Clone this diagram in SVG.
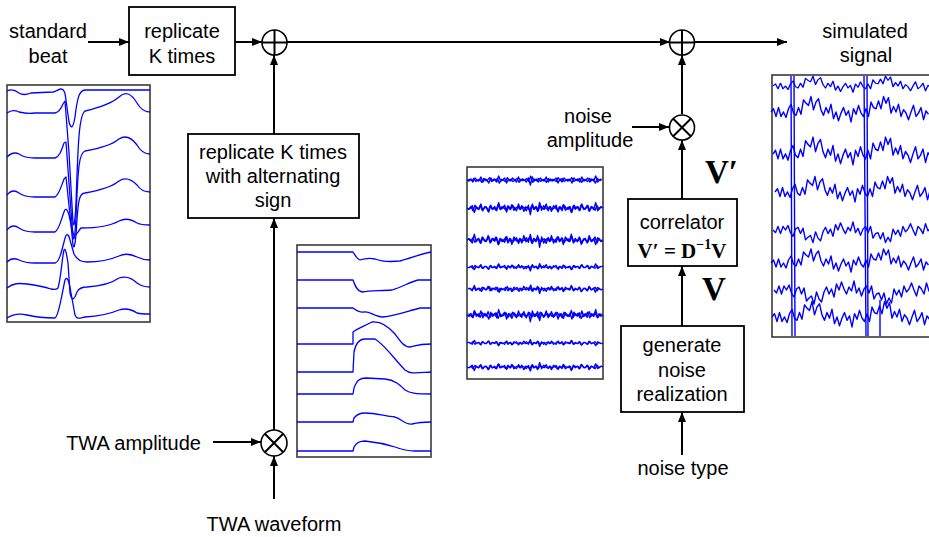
<svg xmlns="http://www.w3.org/2000/svg" xmlns:xlink="http://www.w3.org/1999/xlink" width="929" height="537" viewBox="0 0 929 537">
<style>
.t{font-family:"Liberation Sans",Arial,sans-serif;font-size:20px;fill:#000;text-anchor:middle}
.m{font-family:"Liberation Serif","Times New Roman",serif;font-weight:bold;fill:#000}
.box{fill:#fff;stroke:#000;stroke-width:1.8}
.ln{fill:none;stroke:#000;stroke-width:2}
.op{fill:#fff;stroke:#000;stroke-width:1.6}
.fr{fill:#fff;stroke:#3a3a3a;stroke-width:1.6}
.w{fill:none;stroke:#0000ff;stroke-width:1.3;stroke-linejoin:round}
.nz{fill:none;stroke:#0000ff;stroke-width:1.4;stroke-linejoin:round}
</style>
<defs>
<marker id="ah" viewBox="0 0 10 8" refX="10" refY="4" markerWidth="10" markerHeight="8" orient="auto" markerUnits="userSpaceOnUse"><path d="M0,0 L10,4 L0,8 z" fill="#000"/></marker>
<path id="n1" d="M0,0 L2,1 4,-1 6,2 8,-2 10,0 12,1 14,-3 16,2 18,-1 20,0 22,3 24,-2 26,1 28,-1 30,2 32,-4 34,1 36,0 38,-2 40,3 42,-1 44,1 46,-2 48,0 50,2 52,-3 54,1 56,-1 58,0 60,2 62,-2 64,5 66,-3 68,1 70,-1 72,2 74,-2 76,0 78,1 80,-3 82,2 84,-1 86,1 88,0 90,-2 92,3 94,-1 96,2 98,-2 100,0 102,1 104,-1 106,3 108,-2 110,0 112,-1 114,2 116,-3 118,1 120,0 122,-2 124,2 126,-1 128,1 130,-4 132,2 134,0 136,-1"/>
<path id="n2" d="M0,0 L2.5,-3 5,4 7.5,-4 10,4 12.5,0 15,5 17.5,-3 20,-7 22.5,1 25,3 27.5,-4 30,2 32.5,-11 35,-8 37.5,-6 40,-14 42.5,-2 45,-9 47.5,-12 50,-2 52.5,3 55,-4 57.5,1 60,-7 62.5,6 65,0 67.5,8 70,1 72.5,-4 75,3 77.5,-1 80,9 82.5,-3 85,2 87.5,-6 90,1 92.5,4 95,-3 97.5,4 100,-9 102.5,-4 105,-3 107.5,-10 110,-3 112.5,-14 115,-8 117.5,-13 120,1 122.5,-5 125,0 127.5,-7 130,4 132.5,-2 135,1 137.5,7 140,0 142.5,-6 145,4 147.5,1 150,-4 152.5,7 155,-1 157.5,2"/>
</defs>

<g id="connectors">
<path class="ln" d="M88,42 L129,42" marker-end="url(#ah)"/>
<path class="ln" d="M235,42 L262,42" marker-end="url(#ah)"/>
<path class="ln" d="M287,42 L670,42" marker-end="url(#ah)"/>
<path class="ln" d="M694,42 L787,42" marker-end="url(#ah)"/>
<path class="ln" d="M274,134 L274,55" marker-end="url(#ah)"/>
<path class="ln" d="M274,430 L274,218" marker-end="url(#ah)"/>
<path class="ln" d="M213,442 L261,442" marker-end="url(#ah)"/>
<path class="ln" d="M274,499 L274,456" marker-end="url(#ah)"/>
<path class="ln" d="M682,114 L682,55" marker-end="url(#ah)"/>
<path class="ln" d="M632,127 L669,127" marker-end="url(#ah)"/>
<path class="ln" d="M682,199 L682,140" marker-end="url(#ah)"/>
<path class="ln" d="M682,326 L682,266" marker-end="url(#ah)"/>
<path class="ln" d="M682,455 L682,412" marker-end="url(#ah)"/>
</g>

<g id="label-standard-beat">
<text class="t" x="48" y="38">standard</text>
<text class="t" x="48" y="63">beat</text>
</g>
<g id="box-replicate">
<rect class="box" x="129" y="7" width="106" height="68"/>
<text class="t" x="182" y="38">replicate</text>
<text class="t" x="182" y="63">K times</text>
</g>
<g id="sum1">
<circle class="op" cx="274.5" cy="42.5" r="12.5"/>
<path class="ln" stroke-width="1.5" d="M262,42.5 H287 M274.5,30 V55"/>
</g>
<g id="sum2">
<circle class="op" cx="682" cy="42.5" r="12.5"/>
<path class="ln" stroke-width="1.5" d="M669.5,42.5 H694.5 M682,30 V55"/>
</g>
<g id="label-simulated">
<text class="t" x="865" y="38">simulated</text>
<text class="t" x="866" y="62">signal</text>
</g>
<g id="box-alternating">
<rect class="box" x="188" y="134" width="171" height="84"/>
<text class="t" x="273" y="159">replicate K times</text>
<text class="t" x="273" y="183">with alternating</text>
<text class="t" x="273" y="207">sign</text>
</g>
<g id="mul-twa">
<circle class="op" cx="274" cy="443" r="13"/>
<path class="ln" stroke-width="1.5" d="M264.8,433.8 L283.2,452.2 M283.2,433.8 L264.8,452.2"/>
</g>
<g id="label-twa-amp"><text class="t" x="201" y="450" style="text-anchor:end">TWA amplitude</text></g>
<g id="label-twa-wave"><text class="t" x="274" y="531">TWA waveform</text></g>

<g id="mul-noise">
<circle class="op" cx="682" cy="127.5" r="12.5"/>
<path class="ln" stroke-width="1.5" d="M673.2,118.7 L690.8,136.3 M690.8,118.7 L673.2,136.3"/>
</g>
<g id="label-noise-amp">
<text class="t" x="588" y="123">noise</text>
<text class="t" x="590" y="147">amplitude</text>
</g>
<g id="label-vprime"><text class="m" x="705" y="183" font-size="33">V′</text></g>
<g id="box-correlator">
<rect class="box" x="628" y="199" width="109" height="67"/>
<text class="t" x="682" y="229">correlator</text>
<text class="m" x="682" y="258" font-size="21" text-anchor="middle">V′ = D<tspan font-size="14" dy="-9">−1</tspan><tspan dy="9">V</tspan></text>
</g>
<g id="label-v"><text class="m" x="702" y="300" font-size="33">V</text></g>
<g id="box-generate">
<rect class="box" x="621" y="326" width="123" height="86"/>
<text class="t" x="682" y="352">generate</text>
<text class="t" x="682" y="377">noise</text>
<text class="t" x="682" y="401">realization</text>
</g>
<g id="label-noise-type"><text class="t" x="683" y="475">noise type</text></g>

<g id="plot-standard-beat">
<rect class="fr" x="7" y="85" width="143" height="237"/>
<path class="w" transform="translate(7,92)" d="M0,-1 C4,-3 8,-2 12,1 C15,3 19,3 24,1 L46,0 C50,-1 52,-3 54,-3 C57,-3 58,0 59,8 L62,30 C64,37 66,37 68,25 C70,8 72,-2 78,-2 L143,-2"/>
<path class="w" transform="translate(7,113)" d="M0,0 C4,-3 8,-3 12,-1 C16,0 22,1 28,0 L48,0 C52,-1 54,-4 56,-9 L58,-12 L62,40 L66,110 C67,115 68,110 69,90 C71,30 72,2 78,-2 C95,-6 105,-10 112,-16 C118,-22 124,-20 130,-10 C134,-3 138,-1 143,-1"/>
<path class="w" transform="translate(7,157)" d="M0,0 C4,-4 8,-5 12,-3 C16,0 22,1 28,1 L48,1 C52,0 54,-5 57,-14 L59,-15 L63,40 L66,80 C67,85 68,80 69,60 C71,10 72,-4 78,-6 C95,-9 105,-12 112,-18 C118,-22 124,-20 130,-12 C134,-5 138,-3 143,-3"/>
<path class="w" transform="translate(7,195)" d="M0,0 C4,-5 8,-5 12,-2 C16,1 22,2 28,2 L48,2 C52,0 54,-8 57,-16 L59,-18 L63,20 L66,50 C67,55 68,50 69,40 C71,5 72,-2 78,-2 C95,-5 105,-8 112,-14 C118,-18 124,-16 130,-10 C134,-4 138,-3 143,-3"/>
<path class="w" transform="translate(7,230)" d="M0,0 C4,-5 8,-5 12,-2 C16,1 22,2 28,2 L48,2 C52,0 54,-10 57,-18 C58,-22 60,-22 62,-15 L66,3 C68,8 70,3 74,-2 C95,-2 105,-5 112,-9 C118,-12 124,-11 130,-7 C134,-5 138,-5 143,-5"/>
<path class="w" transform="translate(7,262)" d="M0,0 C4,-4 8,-4 12,-2 C16,0 22,1 28,1 L48,1 C52,0 54,-8 57,-20 C59,-29 61,-30 63,-22 L67,-8 C70,-2 74,0 80,0 C95,0 105,-3 112,-6 C118,-9 124,-8 130,-5 C134,-3 138,-2 143,-2"/>
<path class="w" transform="translate(7,288)" d="M0,0 C6,-5 12,-5 20,-4 C28,-3 38,-1 44,1 C48,2 50,1 51,0 C54,-10 55,-30 57,-38 C58,-40 59,-38 61,-25 L63,5 C65,14 67,12 70,4 C72,0 75,-1 80,-1 C95,-2 105,-5 112,-10 C118,-12 124,-11 130,-5 C134,-2 138,-1 143,-1"/>
<path class="w" transform="translate(7,318)" d="M0,0 C6,-4 12,-5 20,-3 C28,-1 40,0 48,0 C52,-2 55,-25 58,-38 C60,-42 62,-38 64,-25 L68,-3 C70,2 73,0 78,-1 C95,-2 105,-5 112,-8 C118,-10 124,-9 130,-5 C134,-4 138,-4 143,-4"/>
</g>

<g id="plot-twa">
<rect class="fr" x="297" y="245" width="134" height="212"/>
<path class="w" d="M297,252 L353,252 C355,255 357,259 360,260 C366,258 370,258 375,259 C380,261 390,262 400,261 C412,258 420,254 431,252"/>
<path class="w" d="M297,280 L353,280 C355,286 357,291 362,292 C370,290 380,291 392,290 C402,287 410,282 418,280 L431,280"/>
<path class="w" d="M297,308 L353,308 C357,311 360,313 364,312 C370,311 375,317 383,317 C395,316 405,312 420,308 L431,308"/>
<path class="w" d="M297,344 L353,344 L353,332 C358,328 365,326 372,322 C380,321 388,326 395,334 C400,341 404,347 410,347 C415,346 418,344 431,344"/>
<path class="w" d="M297,372 L353,372 L354,352 C356,342 360,339 365,339 L375,339 C385,345 395,360 405,370 C410,374 415,373 431,372"/>
<path class="w" d="M297,394 L353,394 L354,388 C357,380 360,378 366,378 L385,379 C395,380 400,385 405,390 C410,393 415,394 431,394"/>
<path class="w" d="M297,422 L353,422 L354,418 C357,414 360,413 365,413 C375,413 385,416 395,417 C402,419 405,425 412,424 C420,422 425,422 431,422"/>
<path class="w" d="M297,451 L353,451 L354,447 C357,442 360,441 365,441 C375,442 385,444 395,447 C403,450 408,451 415,451 L431,451"/>
</g>

<g id="plot-noise">
<rect class="fr" x="467" y="167" width="136" height="212"/>
<g class="nz">
<use xlink:href="#n1" href="#n1" transform="translate(467,180) scale(0.99,1)"/>
<use xlink:href="#n1" href="#n1" transform="translate(468,180) scale(0.98,-0.8)"/>
<use xlink:href="#n1" href="#n1" transform="translate(467,208) scale(0.99,1.3)"/>
<use xlink:href="#n1" href="#n1" transform="translate(603,208) scale(-0.99,-1.1)"/>
<use xlink:href="#n1" href="#n1" transform="translate(603,240) scale(-0.99,1.4)"/>
<use xlink:href="#n1" href="#n1" transform="translate(467,240) scale(0.99,-1.1)"/>
<use xlink:href="#n1" href="#n1" transform="translate(467,267) scale(0.99,0.8)"/>
<use xlink:href="#n1" href="#n1" transform="translate(603,267) scale(-0.99,-0.7)"/>
<use xlink:href="#n1" href="#n1" transform="translate(603,289) scale(-0.99,0.9)"/>
<use xlink:href="#n1" href="#n1" transform="translate(468,289) scale(0.98,-0.8)"/>
<use xlink:href="#n1" href="#n1" transform="translate(467,315) scale(0.99,1.3)"/>
<use xlink:href="#n1" href="#n1" transform="translate(603,315) scale(-0.99,1.1)"/>
<use xlink:href="#n1" href="#n1" transform="translate(467,343) scale(0.99,-0.7)"/>
<use xlink:href="#n1" href="#n1" transform="translate(603,343) scale(-0.99,0.7)"/>
<use xlink:href="#n1" href="#n1" transform="translate(603,367) scale(-0.99,-0.9)"/>
<use xlink:href="#n1" href="#n1" transform="translate(467,367) scale(0.99,0.8)"/>
</g>
</g>

<g id="plot-simulated">
<rect class="fr" x="772" y="75" width="162" height="262"/>
<g class="nz" stroke-width="1.3">
<use xlink:href="#n2" href="#n2" transform="translate(773,86) scale(1,0.7)"/>
<use xlink:href="#n2" href="#n2" transform="translate(771,112) scale(1,1.1)"/>
<use xlink:href="#n2" href="#n2" transform="translate(773,154) scale(1,1.2)"/>
<use xlink:href="#n2" href="#n2" transform="translate(775,192) scale(1,1.1)"/>
<use xlink:href="#n2" href="#n2" transform="translate(773,230) scale(1,-0.9)"/>
<use xlink:href="#n2" href="#n2" transform="translate(771,263) scale(1,1)"/>
<use xlink:href="#n2" href="#n2" transform="translate(774,290) scale(1,-1)"/>
<use xlink:href="#n2" href="#n2" transform="translate(772,317) scale(1,1.1)"/>
<path d="M791,76 L792,336 M794,76 L795,336 M864,76 L866,336 M867,76 L868,336 M880,300 L880,336"/>
</g>
</g>
</svg>
